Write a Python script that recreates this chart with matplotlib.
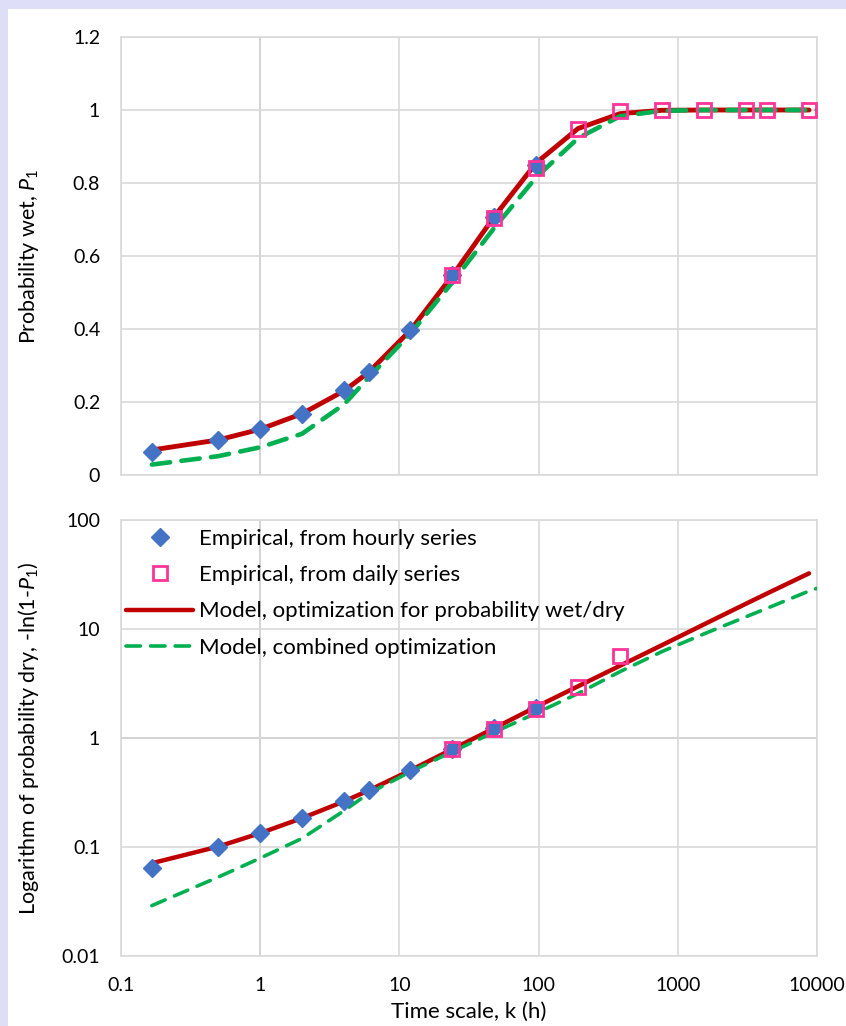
import numpy as np
import matplotlib.pyplot as plt
from matplotlib.patches import Rectangle

plt.rcParams['font.family'] = ['Lato', 'DejaVu Sans']
plt.rcParams['mathtext.fontset'] = 'custom'
plt.rcParams['mathtext.rm'] = 'Lato'
plt.rcParams['mathtext.it'] = 'Lato:italic'

# empirical probability wet, hourly and daily series
k_hourly = [1/6, 0.5, 1, 2, 4, 6, 12, 24, 48, 96]
p_hourly = [0.062, 0.096, 0.126, 0.168, 0.232, 0.283, 0.397, 0.548, 0.706, 0.848]

k_daily = [24, 48, 96, 192, 384, 768, 1536, 3072, 4383, 8766]
p_daily = [0.548, 0.703, 0.840, 0.948, 0.9963, 1.0, 1.0, 1.0, 1.0, 1.0]

# models, given as -ln(1-P1)
k_red = [1/6, 0.5, 1, 2, 4, 6, 12, 24, 48, 96, 192, 384, 768, 1536, 3072, 4383, 8766]
q_red = [0.071, 0.101, 0.134, 0.184, 0.262, 0.33, 0.505, 0.79, 1.23, 1.93, 2.98,
         4.6, 7.1, 11.0, 17.0, 21.2, 32.4]

k_green = [1/6, 0.5, 1, 2, 4, 6, 12, 24, 48, 96, 192, 384, 768, 1536, 3072, 4383, 8766, 10000]
q_green = [0.029, 0.053, 0.079, 0.12, 0.215, 0.31, 0.49, 0.75, 1.13, 1.69, 2.56,
           4.06, 6.2, 9.0, 12.9, 15.5, 22.3, 23.6]

x_ticks = [0.1, 1, 10, 100, 1000, 10000]
x_labels = ['0.1', '1', '10', '100', '1000', '10000']

red = '#C00000'
green = '#00B050'
blue = '#4472C4'
pink = '#FF3399'
grid_c = '#D9D9D9'

p_hourly = np.array(p_hourly)
p_daily = np.array(p_daily)
q_red = np.array(q_red)
q_green = np.array(q_green)

fig = plt.figure(figsize=(8.46, 10.26), dpi=100)
fig.patch.set_facecolor('#DEDEF8')
fig.add_artist(Rectangle((8/846, 0), 1, 1 - 9/1026, transform=fig.transFigure,
                         facecolor='white', edgecolor='none', zorder=-10))

ax1 = fig.add_axes([121/846, 1 - 475/1026, 696/846, 438/1026])
ax2 = fig.add_axes([121/846, 1 - 956/1026, 696/846, 436/1026])

for ax in (ax1, ax2):
    ax.set_xscale('log')
    ax.set_xlim(0.1, 10000)
    ax.set_xticks(x_ticks)
    ax.minorticks_off()
    ax.tick_params(length=0, labelsize=14)
    ax.tick_params(axis='y', pad=15)
    for s in ax.spines.values():
        s.set_color(grid_c)
        s.set_linewidth(1.2)
    ax.grid(True, color=grid_c, linewidth=1.2)
    ax.set_axisbelow(True)
    ax.axvline(1, color='#BFBFBF', linewidth=1.4, zorder=0.5)

# top panel
ax1.plot(k_red, 1 - np.exp(-q_red), color=red, lw=3.5, solid_capstyle='round', zorder=2)
ax1.plot(k_green, 1 - np.exp(-q_green), color=green, lw=3.3, dashes=(4, 2.5),
         dash_capstyle='round', zorder=3)
ax1.plot(k_hourly, p_hourly, 'D', color=blue, ms=9, zorder=4)
ax1.plot(k_daily, p_daily, 's', mfc='none', mec=pink, mew=2, ms=9.5, zorder=5)
ax1.set_ylim(0, 1.2)
ax1.set_yticks([0, 0.2, 0.4, 0.6, 0.8, 1.0, 1.2])
ax1.set_yticklabels(['0', '0.2', '0.4', '0.6', '0.8', '1', '1.2'])
ax1.set_xticklabels([])
ax1.set_ylabel(r'Probability wet, $\mathit{P}_1$', fontsize=15.5)
ax1.yaxis.set_label_coords(-0.115, 0.5)

# bottom panel
ok_h = p_hourly < 1
ok_d = p_daily < 1
ax2.set_yscale('log')
ax2.axhline(1, color='#BFBFBF', linewidth=1.4, zorder=0.5)
ax2.plot(k_hourly, -np.log(1 - p_hourly[ok_h]), 'D', color=blue, ms=9, zorder=4,
         label='Empirical, from hourly series')
ax2.plot(np.array(k_daily)[ok_d], -np.log(1 - p_daily[ok_d]), 's', mfc='none', mec=pink,
         mew=2, ms=9.5, zorder=5, label='Empirical, from daily series')
ax2.plot(k_red, q_red, color=red, lw=3.2, solid_capstyle='round', zorder=2,
         label='Model, optimization for probability wet/dry')
ax2.plot(k_green, q_green, color=green, lw=2.6, dashes=(4, 2.8), dash_capstyle='round',
         zorder=3, label='Model, combined optimization')
ax2.set_ylim(0.01, 100)
ax2.set_yticks([0.01, 0.1, 1, 10, 100])
ax2.set_yticklabels(['0.01', '0.1', '1', '10', '100'])
ax2.minorticks_off()
ax2.set_xticklabels(x_labels)
ax2.tick_params(axis='x', pad=15)
ax2.set_xlabel('Time scale, k (h)', fontsize=16)
ax2.xaxis.set_label_coords(0.5, -0.105)
ax2.set_ylabel(r'Logarithm of probability dry, -ln(1-$\mathit{P}_1$)', fontsize=15.5)
ax2.yaxis.set_label_coords(-0.115, 0.5)

leg = ax2.legend(loc='upper left', frameon=False, fontsize=16, handlelength=3.0,
                 handletextpad=0.25, labelspacing=0.73, borderaxespad=0.0,
                 bbox_to_anchor=(-0.005, 1.0))

fig.savefig('out.png', dpi=100, facecolor=fig.get_facecolor())
